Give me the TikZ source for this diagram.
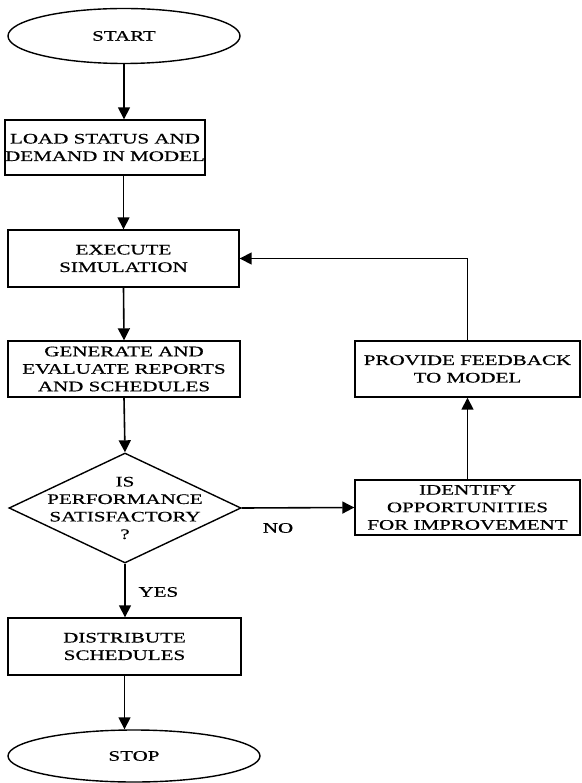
\documentclass[tikz,border=0pt]{standalone}
\usepackage{fontspec}
\setmainfont[FakeStretch=1.45, FakeBold=0.5]{Liberation Serif}
\usepackage{tikz}
\usetikzlibrary{shapes,arrows.meta,positioning,calc}

\begin{document}
\begin{tikzpicture}[x=1pt, y=-1pt,
    every node/.style={font=\fontsize{14.5}{17.5}\selectfont},
    box/.style={draw, line width=1.4pt, rectangle, align=center, inner sep=0pt, minimum height=56pt},
    term/.style={draw, line width=1.4pt, ellipse, inner sep=0pt, minimum height=55pt},
    decision/.style={draw, line width=1.4pt, diamond, inner sep=0pt, minimum width=232pt, minimum height=110pt},
    flow/.style={line width=1.6pt, -{Triangle[length=12pt, width=12pt]}}]
    \useasboundingbox (0,0) rectangle (581,783);

    % Main column
    \node[term, minimum width=232pt] (start) at (124,36) {START};
    \node[box, minimum width=194pt, minimum height=55pt] (load) at (105,147.5) {LOAD STATUS AND\\DEMAND IN MODEL};
    \node[box, minimum width=231pt, minimum height=57pt] (execute) at (123.5,258.5) {EXECUTE\\SIMULATION};
    \node[box, minimum width=232pt] (generate) at (124,369) {GENERATE AND\\EVALUATE REPORTS\\AND SCHEDULES};
    \node[decision] (perf) at (125,508) {};
    \node[align=center] (perftext) at (perf) {IS\\PERFORMANCE\\SATISFACTORY\\?};
    \node[box, minimum width=233pt, minimum height=57pt] (distribute) at (124.5,646.5) {DISTRIBUTE\\SCHEDULES};
    \node[term, minimum width=252pt, minimum height=52pt] (stop) at (134,756) {STOP};

    % Improvement loop
    \node[box, minimum width=225pt, minimum height=55pt] (improve) at (467.5,507.5) {IDENTIFY\\OPPORTUNITIES\\FOR IMPROVEMENT};
    \node[box, minimum width=225pt] (feedback) at (467.5,369) {PROVIDE FEEDBACK\\TO MODEL};

    % Arrows
    \draw[flow] (start.south) -- (start.south |- load.north);
    \draw[flow] (execute.north |- load.south) -- (execute.north);
    \draw[flow] (execute.south) -- (generate.north);
    \draw[flow] (generate.south) -- (perf.north);
    \draw[flow] (perf.south) -- (perf.south |- distribute.north);
    \draw[flow] (distribute.south) -- (distribute.south |- stop.north);
    \draw[flow] (perf.east) -- (improve.west);
    \draw[flow] (improve.north) -- (feedback.south);
    \draw[flow] (feedback.north) |- (execute.east);

    % Labels
    \node[anchor=west] (yes) at (135,592) {YES};
    \node (no) at (278,528) {NO};
\end{tikzpicture}
\end{document}
